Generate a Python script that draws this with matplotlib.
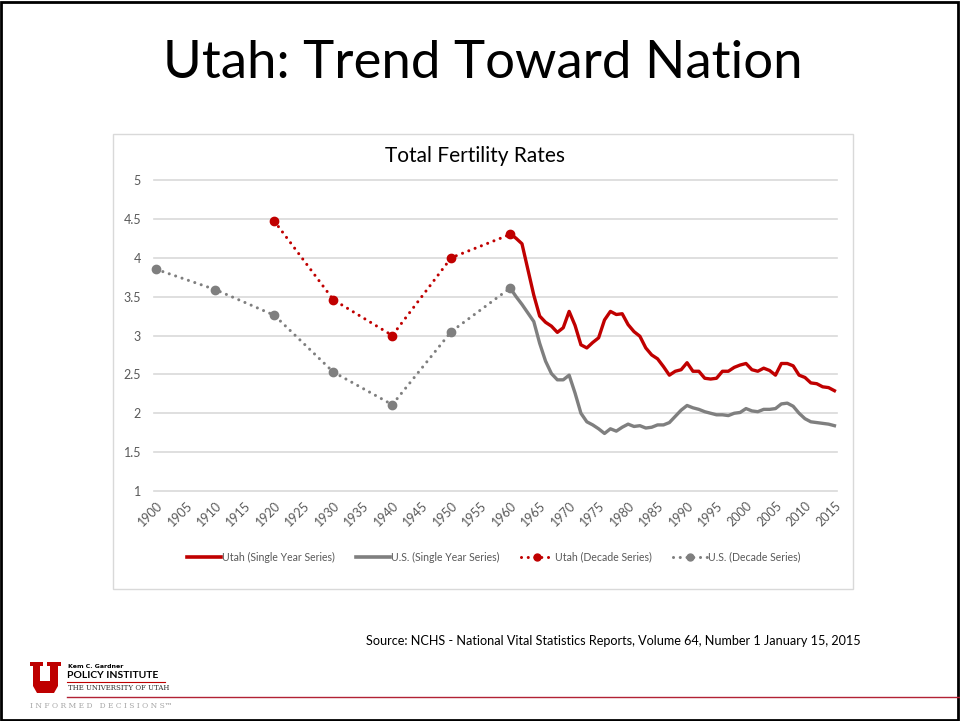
import matplotlib
matplotlib.use("Agg")
import matplotlib.pyplot as plt
from matplotlib.lines import Line2D
from matplotlib.patches import Rectangle, Polygon
from matplotlib import font_manager

# ---------------- data ----------------
single_years = list(range(1960, 2016))
utah_single = [4.31, 4.25, 4.18, 3.85, 3.52, 3.25, 3.17, 3.12, 3.04, 3.10,
               3.31, 3.13, 2.88, 2.84, 2.91, 2.97, 3.20, 3.31, 3.27, 3.28,
               3.14, 3.05, 2.99, 2.84, 2.75, 2.70, 2.60, 2.49, 2.54, 2.56,
               2.65, 2.54, 2.54, 2.45, 2.44, 2.45, 2.54, 2.54, 2.59, 2.62,
               2.64, 2.56, 2.54, 2.58, 2.55, 2.49, 2.64, 2.64, 2.61, 2.49,
               2.46, 2.39, 2.38, 2.34, 2.33, 2.29]
us_single = [3.61, 3.50, 3.40, 3.29, 3.18, 2.90, 2.67, 2.51, 2.43, 2.43,
             2.49, 2.26, 2.00, 1.89, 1.85, 1.80, 1.74, 1.80, 1.77, 1.82,
             1.86, 1.83, 1.84, 1.81, 1.82, 1.85, 1.85, 1.88, 1.96, 2.04,
             2.10, 2.07, 2.05, 2.02, 2.00, 1.98, 1.98, 1.97, 2.00, 2.01,
             2.06, 2.03, 2.02, 2.05, 2.05, 2.06, 2.12, 2.13, 2.09, 2.00,
             1.93, 1.89, 1.88, 1.87, 1.86, 1.84]
utah_dec_years = [1920, 1930, 1940, 1950, 1960]
utah_decade = [4.47, 3.46, 3.00, 4.00, 4.30]
us_dec_years = [1900, 1910, 1920, 1930, 1940, 1950, 1960]
us_decade = [3.85, 3.59, 3.26, 2.53, 2.11, 3.05, 3.61]
x_ticks = list(range(1900, 2016, 5))
y_ticks = [1, 1.5, 2, 2.5, 3, 3.5, 4, 4.5, 5]
legend_labels = ["Utah (Single Year Series)", "U.S. (Single Year Series)",
                 "Utah (Decade Series)", "U.S. (Decade Series)"]

RED = "#C00000"
GRAY = "#7F7F7F"
TXT = "#595959"

avail = {f.name for f in font_manager.fontManager.ttflist}
MAIN = "Lato" if "Lato" in avail else "DejaVu Sans"
NARROW = "Liberation Sans Narrow" if "Liberation Sans Narrow" in avail else MAIN

W, H = 960, 721
fig = plt.figure(figsize=(W / 100, H / 100), dpi=100)
fig.patch.set_facecolor("white")


def fx(px):
    return px / W


def fy(py):
    return 1 - py / H


# slide border
fig.patches.append(Rectangle((fx(1), fy(720)), fx(957), 718 / H, transform=fig.transFigure,
                             fill=False, edgecolor="black", lw=2))
# chart frame
fig.patches.append(Rectangle((fx(113), fy(589)), fx(740), (589 - 134) / H, transform=fig.transFigure,
                             fill=False, edgecolor="#D9D9D9", lw=1))

# title
fig.text(fx(483), fy(63), "Utah: Trend Toward Nation", ha="center", va="center",
         fontsize=38, family=MAIN, color="black")
fig.text(fx(475), fy(156), "Total Fertility Rates", ha="center", va="center",
         fontsize=15, family=MAIN, color="black")

# axes: x 1899.5 -> 153.5 px, 2015.4 -> 836.8 px ; y 5 -> 180 px, 1 -> 491 px
x0, x1 = 1899.5, 2015.4
ax = fig.add_axes([fx(153.5), fy(491), (836.8 - 153.5) / W, (491 - 180) / H])
ax.set_xlim(x0, x1)
ax.set_ylim(1, 5)
for s in ax.spines.values():
    s.set_visible(False)
ax.set_yticks(y_ticks)
ax.set_yticklabels([("%g" % v) for v in y_ticks])
ax.set_xticks(x_ticks)
ax.set_xticklabels([str(v) for v in x_ticks], rotation=45, ha="right", va="top",
                   rotation_mode="anchor")
ax.tick_params(axis="both", length=0, colors=TXT, labelsize=9)
ax.tick_params(axis="y", pad=9)
ax.tick_params(axis="x", pad=6)
for lab in ax.get_xticklabels() + ax.get_yticklabels():
    lab.set_family(NARROW)
ax.grid(axis="y", color="#D9D9D9", lw=1.2)
ax.set_axisbelow(True)
for gl in ax.get_ygridlines():
    gl.set_clip_on(False)

dot = (0, (0.01, 2.2))
ax.plot(us_dec_years, us_decade, color=GRAY, lw=2.2, linestyle=dot, dash_capstyle="round",
        marker="o", markersize=6, clip_on=False, zorder=3)
ax.plot(utah_dec_years, utah_decade, color=RED, lw=2.2, linestyle=dot, dash_capstyle="round",
        marker="o", markersize=6, clip_on=False, zorder=3)
ax.plot(single_years, us_single, color=GRAY, lw=2.4, solid_joinstyle="round", clip_on=False, zorder=4)
ax.plot(single_years, utah_single, color=RED, lw=2.4, solid_joinstyle="round", clip_on=False, zorder=4)

handles = [
    Line2D([], [], color=RED, lw=2.6),
    Line2D([], [], color=GRAY, lw=2.6),
    Line2D([], [], color=RED, lw=2.2, linestyle=dot, dash_capstyle="round", marker="o", markersize=5),
    Line2D([], [], color=GRAY, lw=2.2, linestyle=dot, dash_capstyle="round", marker="o", markersize=5),
]
leg = fig.legend(handles, legend_labels, loc="center", bbox_to_anchor=(fx(494), fy(557)),
                 ncol=4, frameon=False, handlelength=3.2, handletextpad=0.1,
                 columnspacing=2.0, prop={"family": NARROW, "size": 7.6})
for t in leg.get_texts():
    t.set_color(TXT)

# source
fig.text(fx(366), fy(641), "Source: NCHS - National Vital Statistics Reports, Volume 64, Number 1 January 15, 2015",
         ha="left", va="center", fontsize=9.1, family=MAIN, color="black")

# logo
ux, uy = 30, 662
u_pts = [(0, 0), (13, 0), (13, 4), (10, 4), (10, 19), (20, 19), (20, 4), (17, 4), (17, 0),
         (31, 0), (31, 4), (28, 4), (28, 24), (24, 31), (7, 31), (3, 24), (3, 4), (0, 4)]
fig.patches.append(Polygon([(fx(ux + a), fy(uy + b)) for a, b in u_pts], closed=True,
                           transform=fig.transFigure, facecolor="#BE0000", edgecolor="none"))
fig.text(fx(68), fy(666), "Kem C. Gardner", fontsize=4.5, weight="bold", family="DejaVu Sans",
         ha="left", va="center")
fig.text(fx(67), fy(675), "POLICY INSTITUTE", fontsize=7.5, weight="bold", family=NARROW,
         ha="left", va="center")
fig.lines.append(Line2D([fx(67), fx(165)], [fy(682), fy(682)], transform=fig.transFigure,
                        color="#BE0000", lw=0.8))
fig.text(fx(68), fy(688.5), "THE UNIVERSITY OF UTAH", fontsize=5, family="DejaVu Serif",
         ha="left", va="center", color="#333333")
fig.lines.append(Line2D([fx(67), fx(960)], [fy(697), fy(697)], transform=fig.transFigure,
                        color="#B22234", lw=1.0))
fig.text(fx(30), fy(706), "I N F O R M E D   D E C I S I O N S\u2122", fontsize=5.4,
         family="DejaVu Serif", ha="left", va="center", color="#A6A6A6")

fig.savefig("out.png", dpi=100, facecolor="white")
